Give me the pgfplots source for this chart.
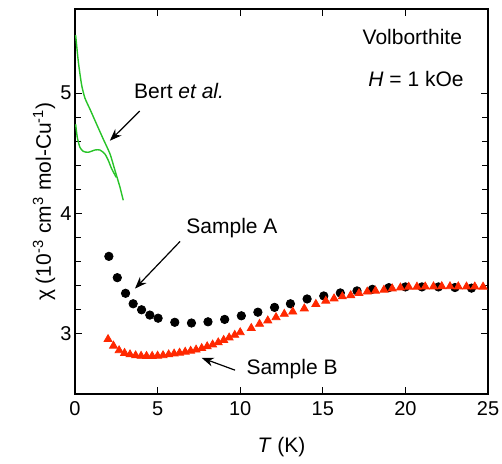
\documentclass[border=0pt]{standalone}
\usepackage{fontspec}
\setmainfont{Liberation Sans}
\usepackage{pgfplots}
\pgfplotsset{compat=1.18}
\usetikzlibrary{arrows.meta}
\definecolor{bertgreen}{RGB}{40,195,40}
\definecolor{sampB}{RGB}{255,40,0}

\begin{document}
\begin{tikzpicture}
\begin{axis}[
  scale only axis, width=206.5pt, height=192.5pt,
  xmin=0, xmax=25, ymin=2.5, ymax=5.7,
  xtick={0,5,...,25}, ytick={3,4,5}, minor y tick num=4,
  tick align=inside, major tick length=3.5pt, minor tick length=3pt,
  /pgf/number format/assume math mode=true,
  tick label style={font=\fontsize{10}{12}\selectfont, inner sep=1pt},
  xticklabel style={yshift=-2.8pt},
  yticklabel style={xshift=-0.6pt},
  label style={font=\fontsize{10.5}{12}\selectfont},
  xlabel={\textit{T} (K)},
  ylabel={χ (10\textsuperscript{-3} cm\textsuperscript{3} mol-Cu\textsuperscript{-1})},
  xlabel style={at={(axis description cs:0.5,-0.137)}, anchor=center},
  ylabel style={at={(axis description cs:-0.075,0.5)}, anchor=center},
  axis line style={line width=0.6pt},
  every tick/.style={line width=0.5pt},
  clip=false,
]
% Bert et al. (two curves)
\addplot[bertgreen, line width=0.7pt, smooth, tension=0.4] coordinates {
(0.04,5.483) (0.2,5.263) (0.4,5.07) (0.6,4.96) (0.91,4.866) (1.31,4.742)
(1.71,4.619) (2.12,4.495) (2.42,4.358) (2.72,4.22) (2.92,4.11)};
\addplot[bertgreen, line width=0.7pt, smooth, tension=0.4] coordinates {
(0.04,4.742) (0.14,4.632) (0.3,4.55) (0.5,4.517) (0.8,4.509) (1.21,4.528)
(1.51,4.528) (1.81,4.495) (2.02,4.44) (2.22,4.372) (2.5,4.30)};
% Sample A
\addplot[only marks, mark=*, mark size=2.1pt, black] coordinates {
(2.05,3.644) (2.56,3.467) (3.06,3.337) (3.52,3.25) (4.03,3.20) (4.53,3.156)
(5.03,3.13) (6.04,3.096) (7.05,3.09) (8.05,3.10) (9.06,3.12) (10.07,3.15)
(11.07,3.18) (12.08,3.22) (13.04,3.25) (14.05,3.29) (15.06,3.315) (16.06,3.34)
(17.07,3.357) (18.0,3.37) (19.0,3.384) (20.0,3.39) (21.0,3.39) (22.0,3.39)
(23.0,3.385) (24.0,3.38)};
% Sample B
\addplot[only marks, mark=triangle*, mark size=2.3pt, sampB] coordinates {
(2.00,2.955) (2.33,2.900) (2.67,2.862) (3.00,2.840) (3.33,2.828) (3.67,2.820)
(4.00,2.816) (4.33,2.815) (4.67,2.815) (5.00,2.817) (5.33,2.821) (5.67,2.828)
(6.00,2.835) (6.33,2.842) (6.67,2.850) (7.00,2.858) (7.33,2.868) (7.67,2.880)
(8.00,2.895) (8.33,2.910) (8.67,2.928) (9.00,2.948) (9.33,2.968) (9.67,2.990)
(10.00,3.012) (10.67,3.047) (11.17,3.082) (11.67,3.110) (12.17,3.137) (12.67,3.165)
(13.18,3.184) (13.88,3.210) (14.58,3.247) (15.18,3.274) (15.68,3.293) (16.18,3.310)
(16.69,3.320) (17.19,3.337) (17.69,3.350) (18.19,3.357) (18.70,3.365) (19.20,3.376)
(19.70,3.384) (20.20,3.390) (20.70,3.391) (21.20,3.392) (21.70,3.393) (22.20,3.395)
(22.70,3.394) (23.20,3.393) (23.70,3.392) (24.20,3.392) (24.70,3.391)};
% annotations
\begin{scope}[font=\fontsize{10.5}{12}\selectfont]
\node at (axis cs:6.30,5.016) {Bert \textit{et al.}};
\draw[line width=0.6pt, -{Stealth[length=6pt,width=4.5pt]}] (axis cs:3.92,4.852) -- (axis cs:2.11,4.605);
\node at (axis cs:9.5,3.88) {Sample A};
\draw[line width=0.6pt, -{Stealth[length=6pt,width=4.5pt]}] (axis cs:6.36,3.768) -- (axis cs:3.63,3.376);
\node at (axis cs:13.14,2.704) {Sample B};
\draw[line width=0.6pt, -{Stealth[length=6pt,width=4.5pt]}] (axis cs:9.69,2.698) -- (axis cs:7.67,2.80);
\node[anchor=east] at (axis cs:23.85,5.47) {Volborthite};
\node[anchor=east] at (axis cs:23.95,5.12) {\textit{H} = 1 kOe};
\end{scope}
\coordinate (bl) at (rel axis cs:0,0);
\coordinate (tr) at (rel axis cs:1,1);
\end{axis}
\path ([shift={(-37.5pt,-31.5pt)}]bl) rectangle ([shift={(7pt,4.5pt)}]tr);
\end{tikzpicture}
\end{document}
